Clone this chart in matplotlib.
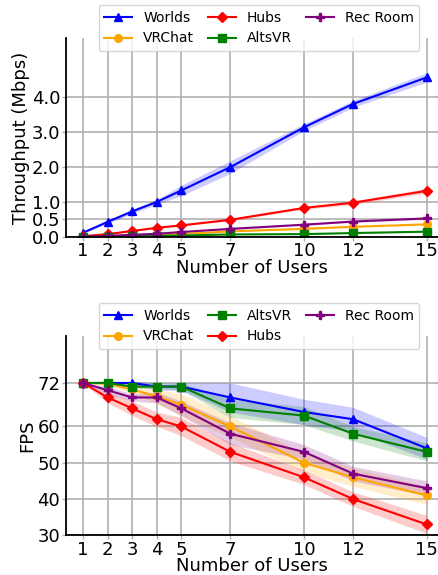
import numpy as np
import matplotlib
matplotlib.use("Agg")
import matplotlib.pyplot as plt

users = [1, 2, 3, 4, 5, 7, 10, 12, 15]

# throughput (Mbps)
tp_worlds = [0.12, 0.43, 0.73, 1.00, 1.33, 2.00, 3.14, 3.81, 4.57]
tp_hubs = [0.02, 0.08, 0.17, 0.26, 0.33, 0.49, 0.83, 0.98, 1.32]
tp_rec = [0.00, 0.03, 0.06, 0.09, 0.14, 0.23, 0.35, 0.44, 0.53]
tp_vrchat = [0.00, 0.02, 0.04, 0.06, 0.08, 0.16, 0.23, 0.29, 0.36]
tp_alts = [0.00, 0.01, 0.02, 0.03, 0.04, 0.07, 0.08, 0.11, 0.15]

tp_worlds_sd = [0.02, 0.05, 0.06, 0.07, 0.15, 0.18, 0.10, 0.10, 0.13]
tp_hubs_sd = [0.01, 0.01, 0.02, 0.02, 0.02, 0.03, 0.04, 0.05, 0.07]
tp_rec_sd = [0.0, 0.01, 0.01, 0.01, 0.01, 0.02, 0.02, 0.02, 0.03]
tp_vrchat_sd = [0.0, 0.01, 0.01, 0.01, 0.01, 0.01, 0.02, 0.02, 0.02]
tp_alts_sd = [0.0, 0.01, 0.01, 0.01, 0.01, 0.01, 0.01, 0.01, 0.01]

# FPS
fps_worlds = [72, 72, 72, 71, 71, 68, 64, 62, 54]
fps_alts = [72, 72, 71, 71, 71, 65, 63, 58, 53]
fps_rec = [72, 70, 68, 68, 65, 58, 53, 47, 43]
fps_vrchat = [72, 71.8, 70.2, 68.3, 66, 60, 50, 46, 41]
fps_hubs = [72, 68, 65, 62, 60, 53, 46, 40, 33]

fps_worlds_sd = [0, 0, 0.5, 1, 1, 4, 3.5, 3.3, 3]
fps_alts_sd = [0, 0, 0.5, 0.5, 1, 2.5, 2.5, 2, 2.5]
fps_rec_sd = [0, 1, 1, 1.5, 2, 3, 2, 2, 2]
fps_vrchat_sd = [0, 0.5, 1, 2, 3, 3, 2.5, 2.5, 2.5]
fps_hubs_sd = [0, 1.5, 2, 2, 2.5, 2.5, 2, 2, 2.5]


def draw(ax, y, sd, color, marker, label):
    y = np.array(y)
    sd = np.array(sd)
    ax.plot(users, y, color=color, marker=marker, markersize=5.5, linewidth=1.5, label=label)
    ax.fill_between(users, y - sd, y + sd, color=color, alpha=0.2, linewidth=0)


def style(ax):
    for s in ["top", "right"]:
        ax.spines[s].set_visible(False)
    ax.spines["left"].set_linewidth(1.3)
    ax.spines["bottom"].set_linewidth(1.3)
    ax.grid(True, color="#b0b0b0", linewidth=1.2)
    ax.set_axisbelow(True)
    ax.set_xticks(users)
    ax.set_xlim(0.3, 15.5)
    ax.tick_params(labelsize=13, length=3, width=1, color="#b0b0b0", pad=1)
    ax.set_xlabel("Number of Users", fontsize=13, labelpad=-1)


fig = plt.figure(figsize=(4.39, 5.75), dpi=100)
ax1 = fig.add_axes([0.150, 0.588, 0.85, 0.346])
ax2 = fig.add_axes([0.150, 0.069, 0.85, 0.347])

draw(ax1, tp_worlds, tp_worlds_sd, "blue", "^", "Worlds")
draw(ax1, tp_vrchat, tp_vrchat_sd, "orange", "o", "VRChat")
draw(ax1, tp_hubs, tp_hubs_sd, "red", "D", "Hubs")
draw(ax1, tp_alts, tp_alts_sd, "green", "s", "AltsVR")
draw(ax1, tp_rec, tp_rec_sd, "purple", "P", "Rec Room")
style(ax1)
ax1.set_ylim(0, 5.7)
ax1.set_yticks([0, 0.5, 1, 2, 3, 4])
ax1.set_yticklabels(["0.0", "0.5", "1.0", "2.0", "3.0", "4.0"])
ax1.set_ylabel("Throughput (Mbps)", fontsize=13, labelpad=1)
ax1.legend(loc="upper center", ncol=3, fontsize=10, bbox_to_anchor=(259 / 439, 1 - 5 / 575),
           bbox_transform=fig.transFigure, borderaxespad=0, columnspacing=1.0, handletextpad=0.8)

draw(ax2, fps_worlds, fps_worlds_sd, "blue", "^", "Worlds")
draw(ax2, fps_vrchat, fps_vrchat_sd, "orange", "o", "VRChat")
draw(ax2, fps_alts, fps_alts_sd, "green", "s", "AltsVR")
draw(ax2, fps_hubs, fps_hubs_sd, "red", "D", "Hubs")
draw(ax2, fps_rec, fps_rec_sd, "purple", "P", "Rec Room")
style(ax2)
ax2.set_ylim(30, 85)
ax2.set_yticks([30, 40, 50, 60, 72])
ax2.set_ylabel("FPS", fontsize=13, labelpad=1)
ax2.legend(loc="upper center", ncol=3, fontsize=10, bbox_to_anchor=(259 / 439, 1 - 303 / 575),
           bbox_transform=fig.transFigure, borderaxespad=0, columnspacing=1.0, handletextpad=0.8)

fig.savefig("out.png", dpi=100)
